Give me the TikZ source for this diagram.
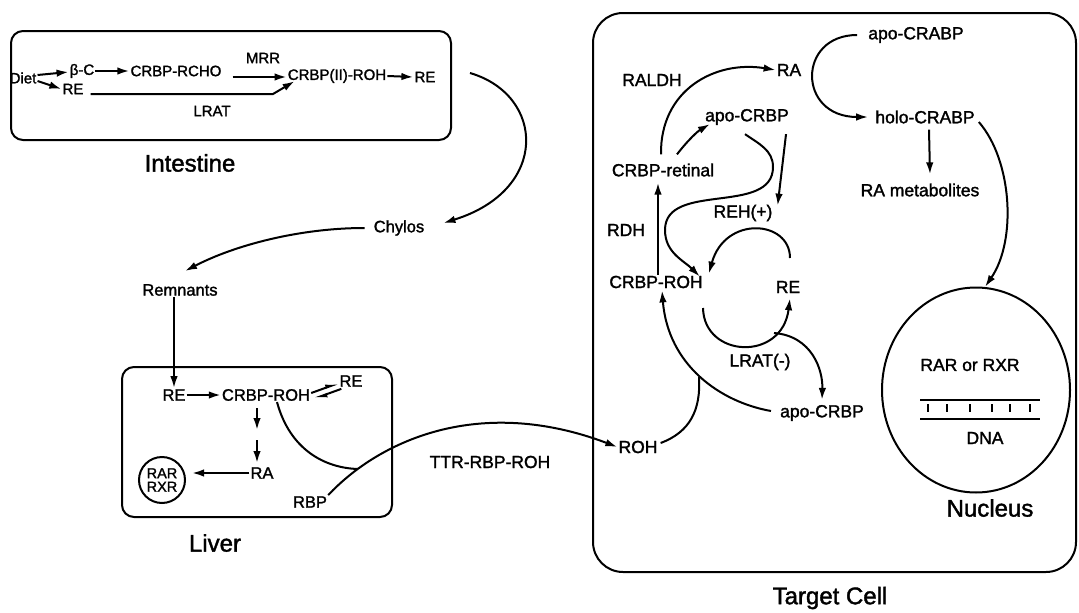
\documentclass[tikz,border=0pt]{standalone}
\usepackage{fontspec}
\setmainfont{Liberation Sans}[FakeBold=1.6]
\usetikzlibrary{arrows.meta,shapes.geometric}
\begin{document}
\begin{tikzpicture}[x=1pt,y=-1pt,
  every node/.style={inner sep=1pt},
  ln/.style={line width=2pt},
  arr/.style={ln,-{Latex[length=12pt,width=7.5pt]}},
  harp/.style={ln,-{Latex[harpoon,length=10pt,width=7pt]}},
  tA/.style={font=\fontsize{15}{17}\selectfont},
  tB/.style={font=\fontsize{16.5}{18}\selectfont},
  tC/.style={font=\fontsize{17.5}{20}\selectfont},
  tD/.style={font=\fontsize{24}{26}\selectfont},
  box/.style={line width=2pt}]
\useasboundingbox (0,0) rectangle (1079,613);

% ---------------- Intestine ----------------
\draw[box,rounded corners=12pt] (11,31) rectangle (451,140);
\node[tA] (diet) at (23,78) {Diet};
\node[tA] (bc) at (82,71) {β-C};
\node[tA] (re1) at (73,89) {RE};
\node[tA] (rcho) at (176,71) {CRBP-RCHO};
\node[tA] (mrr) at (263,58) {MRR};
\node[tA] (crbp2) at (337,76) {CRBP(II)-ROH};
\node[tA] (re2) at (425,77) {RE};
\node[tA] (lrat) at (212,111) {LRAT};
\node[tD] (intestine) at (190,163) {Intestine};

\draw[arr] ([yshift=3pt]diet.east) -- ([yshift=-1pt]bc.west);
\draw[arr] ([yshift=-3pt]diet.east) -- (re1.west);
\draw[arr] (bc.east) -- (rcho.west);
\draw[arr] ([xshift=10pt,yshift=-6pt]rcho.east) -- ([yshift=-1pt]crbp2.west);
\coordinate (lb) at (273,94);
\draw[arr] ([xshift=6pt]re1.east |- lb) -- (lb) -- ([xshift=8pt,yshift=3pt]crbp2.south west);
\draw[arr] (crbp2.east) -- (re2.west);

% ---------------- Chylos / Remnants ----------------
\node[tB] (chylos) at (399,228) {Chylos};
\node[tB] (remn) at (180,290) {Remnants};
\coordinate (iout) at (470,73);
\draw[arr] (iout) .. controls (545,95) and (550,190) .. ([xshift=18pt,yshift=5pt]chylos.east);
\draw[arr] ([xshift=-8pt]chylos.west) .. controls (300,228) and (235,245) .. ([xshift=5pt,yshift=12pt]remn.north);

% ---------------- Liver ----------------
\draw[box,rounded corners=12pt] (122,367) rectangle (392,517);
\node[tD] (liver) at (215,543) {Liver};
\node[tB] (reL) at (174,395) {RE};
\node[tB] (crbpL) at (266,395) {CRBP-ROH};
\node[tB] (reL2) at (351,381) {RE};
\node[tB] (raL) at (262,473) {RA};
\node[tB] (rbp) at (310,502) {RBP};
\node[draw,circle,line width=2pt,inner sep=0pt,minimum size=46pt,align=center,
      font=\fontsize{14.5}{13.5}\selectfont] (rar) at (162,480) {RAR\\RXR};

\draw[arr] (remn.south -| reL.north) -- (reL.north);
\draw[arr] (reL.east) -- (crbpL.west);
\draw[harp] ([yshift=2pt]crbpL.east) -- ([xshift=1pt,yshift=5pt]reL2.south west);
\draw[harp] ([xshift=3pt,yshift=-1pt]reL2.south west) -- ([xshift=2pt,yshift=-4pt]crbpL.east);
\coordinate (d0) at (257,408);
\coordinate (d1) at (257,430);
\coordinate (d2) at (257,440);
\coordinate (d3) at (257,463);
\draw[arr] (d0) -- (d1);
\draw[arr] (d2) -- (d3);
\coordinate (rart) at (192,473);
\draw[arr] (raL.west) -- (rart);
\coordinate (jn) at (358,469);
\draw[ln] ([xshift=11pt]crbpL.south) .. controls (290,450) and (325,468) .. (jn);

% ---------------- Target cell ----------------
\draw[box,rounded corners=30pt] (593,13) rectangle (1076,572);
\node[tD] (target) at (830,598) {Target Cell};
\node[tC] (ra) at (789,70) {RA};
\node[tC] (raldh) at (652,80) {RALDH};
\node[tC] (apo1) at (747,117) {apo-CRBP};
\node[tC] (ret) at (663,170) {CRBP-retinal};
\node[tC] (reh) at (743,213) {REH(+)};
\node[tC] (rdh) at (626,230) {RDH};
\node[tC] (crbpT) at (656,282) {CRBP-ROH};
\node[tC] (reT) at (788,287) {RE};
\node[tC] (lratT) at (760,362) {LRAT(-)};
\node[tC] (apo2) at (822,413) {apo-CRBP};
\node[tC] (roh) at (638,447) {ROH};
\node[tC] (apocrabp) at (916,35) {apo-CRABP};
\node[tC] (holo) at (925,117) {holo-CRABP};
\node[tC] (rameta) at (920,190) {RA metabolites};
\node[draw,ellipse,line width=2pt,minimum width=188pt,minimum height=205pt] (nuc) at (976,390) {};
\node[tC] (rarrxr) at (970,365) {RAR or RXR};
\node[tC] (dna) at (985,438) {DNA};
\node[tD] (nucleus) at (990,508) {Nucleus};
\node[tC] (ttr) at (490,462) {TTR-RBP-ROH};

% RBP -> ROH
\draw[arr] (rbp.north east) .. controls (380,440) and (480,395) .. (roh.west);

% RALDH
\draw[arr] ([xshift=-2pt,yshift=8pt]ret.north) .. controls (660,90) and (715,60) .. (ra.west);
% retinal -> apo-CRBP
\draw[arr] ([xshift=14pt,yshift=8pt]ret.north) .. controls (688,140) and (698,131) .. ([xshift=6pt,yshift=2pt]apo1.south west);
% apo-CRBP -> REH
\draw[arr] ([xshift=-4pt,yshift=-8pt]apo1.south east) -- ([xshift=4pt,yshift=-2pt]reh.north east);
% S curve
\coordinate (s1) at (773,167);
\coordinate (s2) at (665,230);
\draw[arr] ([xshift=-2pt,yshift=-8pt]apo1.south) to[out=-35,in=90] (s1) to[out=-90,in=90] (s2) to[out=-90,in=135] ([xshift=-4pt,yshift=-2pt]crbpT.north east);
% REH arc
\coordinate (rh0) at (790,258);
\draw[arr] (rh0) .. controls (790,220) and (725,215) .. ([xshift=5pt,yshift=1pt]crbpT.north east);
% RDH
\draw[arr] ([xshift=2pt]crbpT.north) -- ([xshift=-5pt,yshift=-5pt]ret.south);
% apo-CRBP (lower) -> CRBP-ROH
\draw[arr] ([xshift=-8pt,yshift=2pt]apo2.west) .. controls (720,402) and (668,365) .. ([xshift=6pt,yshift=-1pt]crbpT.south);
% ROH -> join
\coordinate (jT) at (699,377);
\draw[ln] ([xshift=2pt,yshift=4pt]roh.east) .. controls (690,432) and (701,410) .. (jT);
% LRAT arc
\coordinate (la0) at (703,308);
\draw[arr] (la0) .. controls (704,358) and (782,362) .. ([xshift=2pt,yshift=-4pt]reT.south);
\coordinate (lb0) at (774,333);
\draw[arr] (lb0) .. controls (812,336) and (823,370) .. ([yshift=4pt]apo2.north);
% apo-CRABP -> holo-CRABP
\draw[arr] ([xshift=-10pt]apocrabp.west) .. controls (797,35) and (797,117) .. ([xshift=-6pt]holo.west);
% holo -> metabolites
\draw[arr] ([xshift=4pt,yshift=-5pt]holo.south) -- ([xshift=10pt,yshift=8pt]rameta.north);
% holo -> nucleus
\draw[arr] ([xshift=3pt,yshift=-5pt]holo.east) .. controls (1012,160) and (1017,240) .. (nuc.85);

% DNA
\draw[ln] (920,400) -- (1040,400);
\draw[ln] (920,419) -- (1040,419);
\foreach \xx in {928,947,970,992,1010,1030} \draw[line width=1.4pt] (\xx,404) -- (\xx,412);
\end{tikzpicture}
\end{document}
